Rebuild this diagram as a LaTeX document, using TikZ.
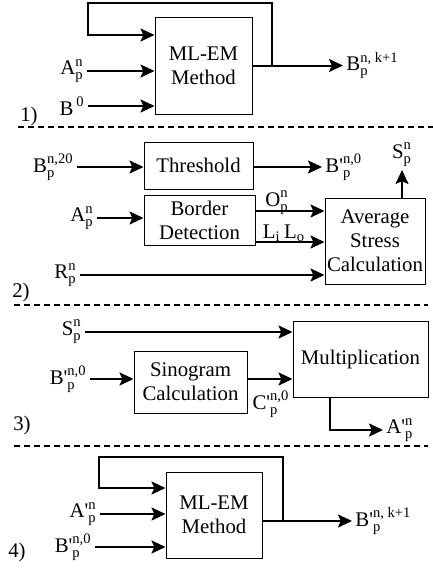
\documentclass[tikz,border=0pt]{standalone}
\usepackage{fontspec}
\setmainfont{Liberation Serif}
\usepackage{amsmath}
\usetikzlibrary{arrows.meta}
\newcommand{\lbsym}[3]{$\text{#1}^{\text{#3}}_{\text{#2}}$}
\newcommand{\bpr}{B\textquotesingle}
\tikzset{
  box/.style={draw, line width=0.5pt, inner sep=1pt, align=center},
  arr/.style={line width=1pt, -{Stealth[length=7pt,width=6.5pt,inset=1.4pt]}},
  sep/.style={line width=1pt, dash pattern=on 3pt off 2pt},
  lab/.style={inner sep=1.5pt},
}
\begin{document}
\begin{tikzpicture}[x=0.5pt,y=-0.5pt,font=\fontsize{10.4}{12}\selectfont]
\useasboundingbox (0,0) rectangle (433,573);

% ---------------- section 1
\node[box, minimum width=48.5pt, minimum height=48.5pt] (m1) at (203.5,65.5) {ML-EM\\Method};
\coordinate (a1) at (87,71);
\node[lab,anchor=east] (la1) at (a1) {\lbsym{A}{p}{n}};
\draw[arr] (a1) -- (a1 -| m1.west);
\coordinate (b1) at (88,106);
\node[lab,anchor=east] (lb1) at (b1) {$\text{B}^{\,\text{0}}$};
\draw[arr] (b1) -- (b1 -| m1.west);
\coordinate (j1) at (272,65.5);
\coordinate (t1) at (88,3);
\coordinate (f1) at (88,35);
\draw[arr, line join=miter] (j1) |- (t1) -- (f1) -- (f1 -| m1.west);
\coordinate (o1) at (343,65.5);
\draw[arr] (m1.east) -- (o1);
\node[lab,anchor=west] (lo1) at (o1) {$\text{B}^{\text{n, k+1}}_{\text{p}}$};
\node (n1) at (29,116) {1)};
\coordinate (d1a) at (18,127); \coordinate (d1b) at (433,127);
\draw[sep] (d1a) -- (d1b);

% ---------------- section 2
\node[box, minimum width=54.5pt, minimum height=23.5pt] (th) at (198.5,165.5) {Threshold};
\coordinate (b2) at (77,167);
\node[lab,anchor=east] (lb2) at (b2) {\lbsym{B}{p}{n,20}};
\draw[arr] (b2) -- (b2 -| th.west);
\coordinate (o2) at (322,167);
\draw[arr] (th.east |- b2) -- (o2);
\node[lab,anchor=west] (lo2) at (o2) {$\text{\bpr}^{\text{n,0}}_{\text{p}}$};

\node[box, minimum width=55.5pt, minimum height=25pt] (bd) at (199.5,220) {Border\\Detection};
\coordinate (a2) at (97,218);
\node[lab,anchor=east] (la2) at (a2) {\lbsym{A}{p}{n}};
\draw[arr] (a2) -- (a2 -| bd.west);

\node[box, minimum width=50pt, minimum height=43pt] (av) at (375,241) {Average\\Stress\\Calculation};
\coordinate (u2) at (255,211);
\draw[arr] (u2 -| bd.east) -- (u2 -| av.west);
\node (lO) at (277,203) {\lbsym{O}{p}{n}};
\coordinate (w2) at (255,242);
\draw[arr] (w2 -| bd.east) -- (w2 -| av.west);
\node (lL) at (284,233) {L$_{\text{i}}$\,L$_{\text{o}}$};
\coordinate (r2) at (80,275);
\node[lab,anchor=east] (lr2) at (r2) {\lbsym{R}{p}{n}};
\draw[arr] (r2) -- (r2 -| av.west);
\coordinate (s2) at (402,170);
\draw[arr] (s2 |- av.north) -- (s2);
\node[lab,anchor=south] (ls2) at (s2) {\lbsym{S}{p}{n}};
\node (n2) at (21,292) {2)};
\coordinate (d2a) at (14,305); \coordinate (d2b) at (428,305);
\draw[sep] (d2a) -- (d2b);

% ---------------- section 3
\node[box, minimum width=67.5pt, minimum height=38pt] (mu) at (360.5,359) {Multiplication};
\coordinate (s3) at (85,332);
\node[lab,anchor=east] (ls3) at (s3) {\lbsym{S}{p}{n}};
\draw[arr] (s3) -- (s3 -| mu.west);
\node[box, minimum width=56.5pt, minimum height=31pt] (sg) at (190.5,382) {Sinogram\\Calculation};
\coordinate (b3) at (90,379);
\node[lab,anchor=east] (lb3) at (b3) {$\text{\bpr}^{\text{n,0}}_{\text{p}}$};
\draw[arr] (b3) -- (b3 -| sg.west);
\draw[arr] (b3 -| sg.east) -- (b3 -| mu.west);
\node (lC) at (271,404) {$\text{C\textquotesingle}^{\text{n,0}}_{\text{p}}$};
\coordinate (v3) at (330,430);
\coordinate (o3) at (383,430);
\draw[arr, line join=miter] (v3 |- mu.south) -- (v3) -- (o3);
\node[lab,anchor=west] (lo3) at (o3) {$\text{A\textquotesingle}^{\text{n}}_{\text{p}}$};
\node (n3) at (22,425) {3)};
\coordinate (d3a) at (14,446); \coordinate (d3b) at (428,446);
\draw[sep] (d3a) -- (d3b);

% ---------------- section 4
\node[box, minimum width=48pt, minimum height=43pt] (m4) at (214,515) {ML-EM\\Method};
\coordinate (a4) at (100,514);
\node[lab,anchor=east] (la4) at (a4) {$\text{A\textquotesingle}^{\text{n}}_{\text{p}}$};
\draw[arr] (a4) -- (a4 -| m4.west);
\coordinate (b4) at (95,547);
\node[lab,anchor=east] (lb4) at (b4) {$\text{\bpr}^{\text{n,0}}_{\text{p}}$};
\draw[arr] (b4) -- (b4 -| m4.west);
\coordinate (j4) at (283,521);
\coordinate (t4) at (99,457);
\coordinate (f4) at (99,488);
\draw[arr, line join=miter] (j4) |- (t4) -- (f4) -- (f4 -| m4.west);
\coordinate (o4) at (352,521);
\draw[arr] (j4 -| m4.east) -- (o4);
\node[lab,anchor=west] (lo4) at (o4) {$\text{\bpr}^{\text{n, k+1}}_{\text{p}}$};
\node (n4) at (17,552) {4)};
\end{tikzpicture}
\end{document}
